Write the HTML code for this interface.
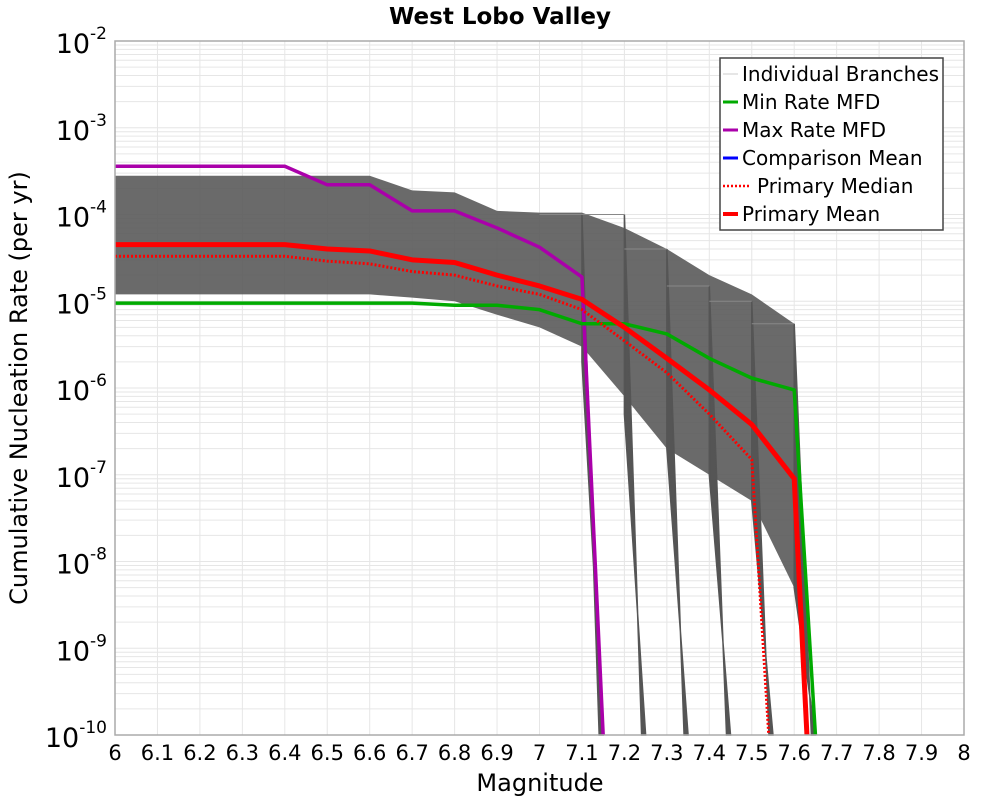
<!DOCTYPE html>
<html><head><meta charset="utf-8"><style>
body{margin:0;background:#fff;}
svg text{font-family:"DejaVu Sans","Liberation Sans",sans-serif;}
</style></head><body>
<svg id="chart" width="1000" height="800" xmlns="http://www.w3.org/2000/svg">
<rect width="1000" height="800" fill="#fff"/>
<g id="grid"></g>
<g id="band"></g>
<g id="series"></g>
<rect x="115" y="41" width="849" height="694" fill="none" stroke="#aaa" stroke-width="1.5"/>
<g id="yticks"></g>
<g id="xticks"></g>
<text x="500" y="24" text-anchor="middle" font-size="23" font-weight="bold">West Lobo Valley</text>
<text x="540" y="791" text-anchor="middle" font-size="24">Magnitude</text>
<text transform="translate(27,388) rotate(-90)" text-anchor="middle" font-size="24">Cumulative Nucleation Rate (per yr)</text>
<g>
<rect x="720" y="58" width="223" height="172" fill="#fff" stroke="#444" stroke-width="1.5"/>
<g><line x1="723" y1="74" x2="738" y2="74" stroke="#ccc" stroke-width="1"/><text x="742" y="81" font-size="20">Individual Branches</text></g>
<g><line x1="723" y1="102" x2="738" y2="102" stroke="#00aa00" stroke-width="3"/><text x="742" y="109" font-size="20">Min Rate MFD</text></g>
<g><line x1="723" y1="130" x2="738" y2="130" stroke="#aa00aa" stroke-width="3"/><text x="742" y="137" font-size="20">Max Rate MFD</text></g>
<g><line x1="723" y1="158" x2="738" y2="158" stroke="#0000ff" stroke-width="3"/><text x="742" y="165" font-size="20">Comparison Mean</text></g>
<g><line x1="723" y1="186" x2="751" y2="186" stroke="#ff0000" stroke-width="2.5" stroke-dasharray="2,2"/><text x="757" y="193" font-size="20">Primary Median</text></g>
<g><line x1="723" y1="214" x2="738" y2="214" stroke="#ff0000" stroke-width="4"/><text x="742" y="221" font-size="20">Primary Mean</text></g>
</g>
</svg>
<script>
const xTicks=[6,6.1,6.2,6.3,6.4,6.5,6.6,6.7,6.8,6.9,7,7.1,7.2,7.3,7.4,7.5,7.6,7.7,7.8,7.9,8];
const yExps=[-2,-3,-4,-5,-6,-7,-8,-9,-10];
const magMax=[6,6.1,6.2,6.3,6.4,6.5,6.6,6.7,6.8,6.9,7.0,7.1,7.15];
const rateMax=[3.6e-4,3.6e-4,3.6e-4,3.6e-4,3.6e-4,2.2e-4,2.2e-4,1.1e-4,1.1e-4,7e-5,4.2e-5,1.9e-5,1e-10];
const magMin=[6,6.1,6.2,6.3,6.4,6.5,6.6,6.7,6.8,6.9,7.0,7.1,7.2,7.3,7.4,7.5,7.6,7.65];
const rateMin=[9.5e-6,9.5e-6,9.5e-6,9.5e-6,9.5e-6,9.5e-6,9.5e-6,9.5e-6,9e-6,9e-6,8e-6,5.5e-6,5.5e-6,4.2e-6,2.2e-6,1.3e-6,9.5e-7,1e-10];
const magMean=[6,6.1,6.2,6.3,6.4,6.5,6.6,6.7,6.8,6.9,7.0,7.1,7.2,7.3,7.4,7.5,7.6,7.63];
const rateMean=[4.5e-5,4.5e-5,4.5e-5,4.5e-5,4.5e-5,4e-5,3.8e-5,3e-5,2.8e-5,2e-5,1.5e-5,1.05e-5,5e-6,2.2e-6,9.5e-7,3.8e-7,9e-8,1e-10];
const magMedian=[6,6.1,6.2,6.3,6.4,6.5,6.6,6.7,6.8,6.9,7.0,7.1,7.2,7.3,7.4,7.5,7.54];
const rateMedian=[3.3e-5,3.3e-5,3.3e-5,3.3e-5,3.3e-5,2.9e-5,2.7e-5,2.2e-5,2e-5,1.5e-5,1.2e-5,8e-6,3.5e-6,1.5e-6,5e-7,1.5e-7,1e-10];
const bandMag=[6,6.6,6.7,6.8,6.9,7.0,7.1,7.2,7.3,7.4,7.5,7.6];
const bandUpper=[2.8e-4,2.8e-4,1.9e-4,1.8e-4,1.1e-4,1.05e-4,1.05e-4,7e-5,4e-5,2e-5,1.2e-5,5.5e-6];
const bandLower=[1.2e-5,1.2e-5,1.1e-5,1e-5,7e-6,5e-6,3e-6,8e-7,2e-7,1e-7,5e-8,5e-9];
const dropMags=[7.1,7.2,7.3,7.4,7.5,7.6];
const dropTops=[1e-4,1e-4,4e-5,1.5e-5,1e-5,5.5e-6];
const dropBottoms=[2e-6,5e-7,2e-7,1e-7,5e-8,5e-9];

const NS="http://www.w3.org/2000/svg";
const X0=115,X1=964,Y0=41,Y1=735;
function xs(m){return X0+(m-6)/2*(X1-X0);}
function ys(v){let l=Math.log10(Math.max(v,1e-10));return Y0+(-2-l)/8*(Y1-Y0);}
function mk(tag,parent,attrs){const e=document.createElementNS(NS,tag);for(const k in attrs)e.setAttribute(k,attrs[k]);parent.appendChild(e);return e;}
const grid=document.getElementById('grid');
for(let e=-10;e<-2;e++){for(let k=1;k<10;k++){const y=ys(k*Math.pow(10,e));
 const l=mk('line',grid,{x1:X0,x2:X1,y1:y,y2:y,stroke:'#e6e6e6','stroke-width':1});
 
 }}
xTicks.forEach(t=>{const l=mk('line',grid,{x1:xs(t),x2:xs(t),y1:Y0,y2:Y1,stroke:'#e6e6e6','stroke-width':1});
 
 });
const yt=document.getElementById('yticks');
yExps.forEach(e=>{const t=mk('text',yt,{x:X0-8,y:ys(Math.pow(10,e))+12,'text-anchor':'end','font-size':27});
 
 
 t.innerHTML='10<tspan dy="-14" font-size="17">'+e+'</tspan>';});
const xt=document.getElementById('xticks');
xTicks.forEach(v=>{const t=mk('text',xt,{x:xs(v),y:Y1+25,'text-anchor':'middle','font-size':21});
 
 
 t.textContent=String(v);});
const band=document.getElementById('band');
let pts=bandMag.map((m,i)=>xs(m)+','+ys(bandUpper[i]));
for(let i=bandMag.length-1;i>=0;i--)pts.push(xs(bandMag[i])+','+ys(bandLower[i]));
const poly=mk('polygon',band,{points:pts.join(' '),fill:'#5a5a5a','fill-opacity':0.9});


dropMags.forEach((m,i)=>{const p=mk('polygon',band,{points:[xs(m)+','+ys(dropTops[i]),xs(m)+','+ys(dropBottoms[i]),xs(m+0.05)+','+ys(1e-10),(xs(m+0.05)-4)+','+ys(1e-10)].join(' '),fill:'#555',stroke:'#555','stroke-width':1.5});
 
 
 const l=mk('line',band,{x1:xs(m-0.1),y1:ys(dropTops[i]),x2:xs(m),y2:ys(dropTops[i]),stroke:'#888','stroke-width':1});
 
 });
const ser=document.getElementById('series');
function line(ms,rs,color,w,dash,name){const d=ms.map((m,i)=>(i?'L':'M')+xs(m)+' '+ys(rs[i])).join(' ');
 const p=mk('path',ser,{d:d,fill:'none',stroke:color,'stroke-width':w,'stroke-linejoin':'round'});
 if(dash)p.setAttribute('stroke-dasharray',dash);
 
 }
line(magMax,rateMax,'#aa00aa',3.5,null,'max-rate-line');
line(magMin,rateMin,'#00aa00',3.5,null,'min-rate-line');
line(magMedian,rateMedian,'#ff0000',3,'2,2','primary-median-line');
line(magMean,rateMean,'#ff0000',5,null,'primary-mean-line');
</script>
</body></html>
